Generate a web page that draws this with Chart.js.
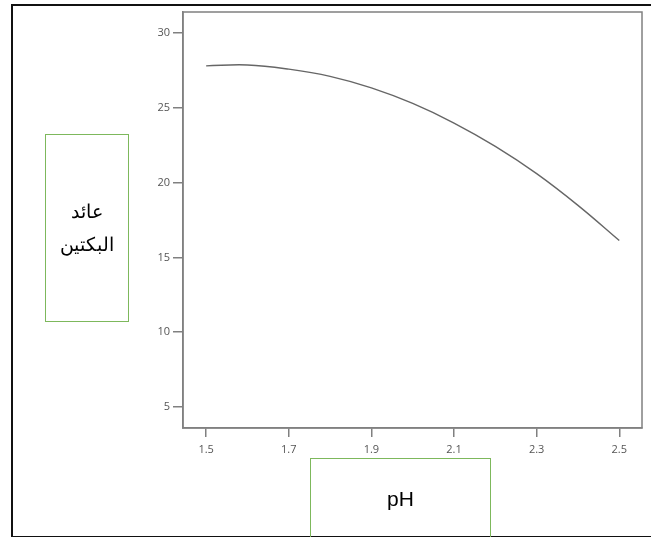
<!DOCTYPE html>
<html>
<head>
<meta charset="utf-8">
<script src="https://cdn.jsdelivr.net/npm/chart.js@4"></script>
<style>
  html, body { margin: 0; padding: 0; background: #fff; }
  #wrap { position: relative; width: 651px; height: 537px; overflow: hidden; }
  #frame { position: absolute; left: 11px; top: 4px; width: 660px; height: 530px;
           border-left: 2px solid #111; border-top: 2px solid #111; border-bottom: 2px solid #111; }
  canvas { position: absolute; left: 0; top: 0; }
  .box { position: absolute; border: 1.5px solid #7db85c; box-sizing: border-box; background: transparent;
         font-family: "Liberation Sans", Arial, sans-serif; color: #000; text-align: center; }
  #ybox { left: 45px; top: 134px; width: 84px; height: 188px; }
  #ybox div { position: absolute; left: 0; width: 100%; font-size: 19px; line-height: 24px; }
  #xbox { left: 310px; top: 458px; width: 181px; height: 80px; }
  #xbox div { position: absolute; left: 0; width: 100%; top: 27px; font-size: 21px; line-height: 26px; }
</style>
</head>
<body>
<div id="wrap">
  <canvas id="c" width="651" height="537"></canvas>
  <div id="frame"></div>
  <div class="box" id="ybox"><div style="top:65px" dir="rtl">عائد</div><div style="top:98px" dir="rtl">البكتين</div></div>
  <div class="box" id="xbox"><div>pH</div></div>
</div>
<script>
const xValues = [1.5, 1.6, 1.7, 1.8, 1.9, 2.0, 2.1, 2.2, 2.3, 2.4, 2.5];
const yieldValues = [27.80, 27.86, 27.58, 27.10, 26.33, 25.29, 23.98, 22.42, 20.60, 18.48, 16.13];
const xTicks = [1.5, 1.7, 1.9, 2.1, 2.3, 2.5];
const yTicks = [5, 10, 15, 20, 25, 30];

const boxPlugin = {
  id: 'boxPlugin',
  afterDraw(chart) {
    const a = chart.chartArea, ctx = chart.ctx;
    ctx.save();
    ctx.strokeStyle = '#808080';
    ctx.lineWidth = 1.5;
    ctx.strokeRect(a.left, a.top, a.right - a.left, a.bottom - a.top);
    ctx.restore();
  }
};

new Chart(document.getElementById('c'), {
  type: 'line',
  data: {
    datasets: [{
      data: xValues.map((x, i) => ({ x: x, y: yieldValues[i] })),
      borderColor: '#666666',
      borderWidth: 1.4,
      pointRadius: 0,
      tension: 0.4,
      fill: false
    }]
  },
  options: {
    responsive: false,
    animation: false,
    devicePixelRatio: 1,
    layout: { padding: { left: 0, top: 12, right: 9, bottom: 0 } },
    plugins: { legend: { display: false }, tooltip: { enabled: false } },
    scales: {
      x: {
        type: 'linear',
        min: 1.444, max: 2.555,
        afterBuildTicks(s) { s.ticks = xTicks.map(v => ({ value: v })); },
        afterFit(s) { s.height = 109; },
        grid: { drawOnChartArea: false, tickLength: 9, color: '#808080', lineWidth: 1.5 },
        border: { display: true, color: '#808080', width: 1.5 },
        ticks: { padding: 6, color: '#555', font: { family: 'Open Sans', size: 11 },
                 callback: v => v.toFixed(1), maxRotation: 0 }
      },
      y: {
        type: 'linear',
        min: 3.6, max: 31.4,
        afterBuildTicks(s) { s.ticks = yTicks.map(v => ({ value: v })); },
        afterFit(s) { s.width = 183; },
        grid: { drawOnChartArea: false, tickLength: 10, color: '#808080', lineWidth: 1.5 },
        border: { display: true, color: '#808080', width: 1.5 },
        ticks: { padding: 3, color: '#555', font: { family: 'Open Sans', size: 11 } }
      }
    }
  },
  plugins: [boxPlugin]
});
</script>
</body>
</html>
